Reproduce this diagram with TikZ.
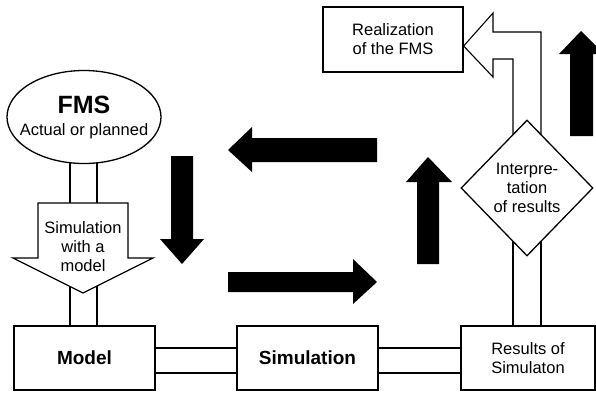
\documentclass[tikz,border=0pt]{standalone}
\usepackage{fontspec}
\setmainfont{Liberation Sans}
\usetikzlibrary{shapes.geometric,backgrounds}

\tikzset{
  box/.style={draw, fill=white, line width=1.3pt, inner sep=0pt},
  boldtext/.style={font=\fontsize{19}{22}\selectfont\bfseries},
  plaintext/.style={font=\fontsize{16.5}{19}\selectfont, align=center, inner sep=0pt},
  pipe/.style={line width=1.1pt},
  blackarrow/.style={fill=black},
}

\begin{document}
\begin{tikzpicture}[x=1pt,y=-1pt]
\useasboundingbox (0,0) rectangle (596,392);

% nodes
\node[box, ellipse, minimum width=154, minimum height=93] (fms) at (84,117) {};
\node[plaintext] (fmstext) at (fms) {{\fontsize{25}{25}\selectfont\bfseries FMS}\\[3pt]Actual or planned};
\node[box, minimum width=140, minimum height=65, plaintext] (realiz) at (393,39.5) {Realization\\of the FMS};
\node[box, minimum width=141, minimum height=64, boldtext] (model) at (84.5,358) {Model};
\node[box, minimum width=141, minimum height=64, boldtext] (sim) at (307.5,358) {Simulation};
\node[box, minimum width=134, minimum height=64, plaintext] (results) at (528,358) {Results of\\Simulaton};
\node[box, diamond, minimum width=132, minimum height=136, plaintext] (interp) at (527,188) {Interpre-\\tation\\of results};
\coordinate (realtip) at ([yshift=-6.5]realiz.east);

% hollow arrow with text
\draw[box] (38,203) -- (128,203) -- (128,258) -- (153,258) -- (83,293) -- (13,258) -- (38,258) -- cycle;
\node[plaintext] (simtext) at (83,247) {Simulation\\with a\\model};

% double lines
\begin{pgfonlayer}{background}
\draw[pipe] ([xshift=-14]fms.center) -- ([xshift=-14]fms.center |- model.center);
\draw[pipe] ([xshift=13]fms.center) -- ([xshift=13]fms.center |- model.center);
\draw[pipe] ([yshift=10]model.center) -- ([yshift=10]results.center);
\draw[pipe] ([yshift=-15]model.center) -- ([yshift=-15]results.center);
\draw[pipe] ([xshift=-15]results.center) -- ([xshift=-15]results.center |- interp.center);
\draw[pipe] ([xshift=13]results.center) -- ([xshift=13]results.center |- interp.center);
\draw[pipe, line join=miter] ([xshift=-14]interp.center) |- (493,59) -- (493,77) -- (realtip)
    -- (493,13) -- (493,32) -| ([xshift=14]interp.center);
\end{pgfonlayer}

% black arrows
\fill[blackarrow] (252,138) -- (377,138) -- (377,162) -- (252,162) -- (252,172) -- (228,150) -- (252,127) -- cycle;
\fill[blackarrow] (171,156) -- (193,156) -- (193,239) -- (204,239) -- (182,264) -- (160,239) -- (171,239) -- cycle;
\fill[blackarrow] (228,272) -- (353,272) -- (353,259) -- (377,282) -- (353,304) -- (353,292) -- (228,292) -- cycle;
\fill[blackarrow] (417,264) -- (417,182) -- (406,182) -- (428,157) -- (452,182) -- (439,182) -- (439,264) -- cycle;
\fill[blackarrow] (570,136) -- (570,54) -- (559,54) -- (581,31) -- (604,54) -- (593,54) -- (593,136) -- cycle;
\end{tikzpicture}
\end{document}
